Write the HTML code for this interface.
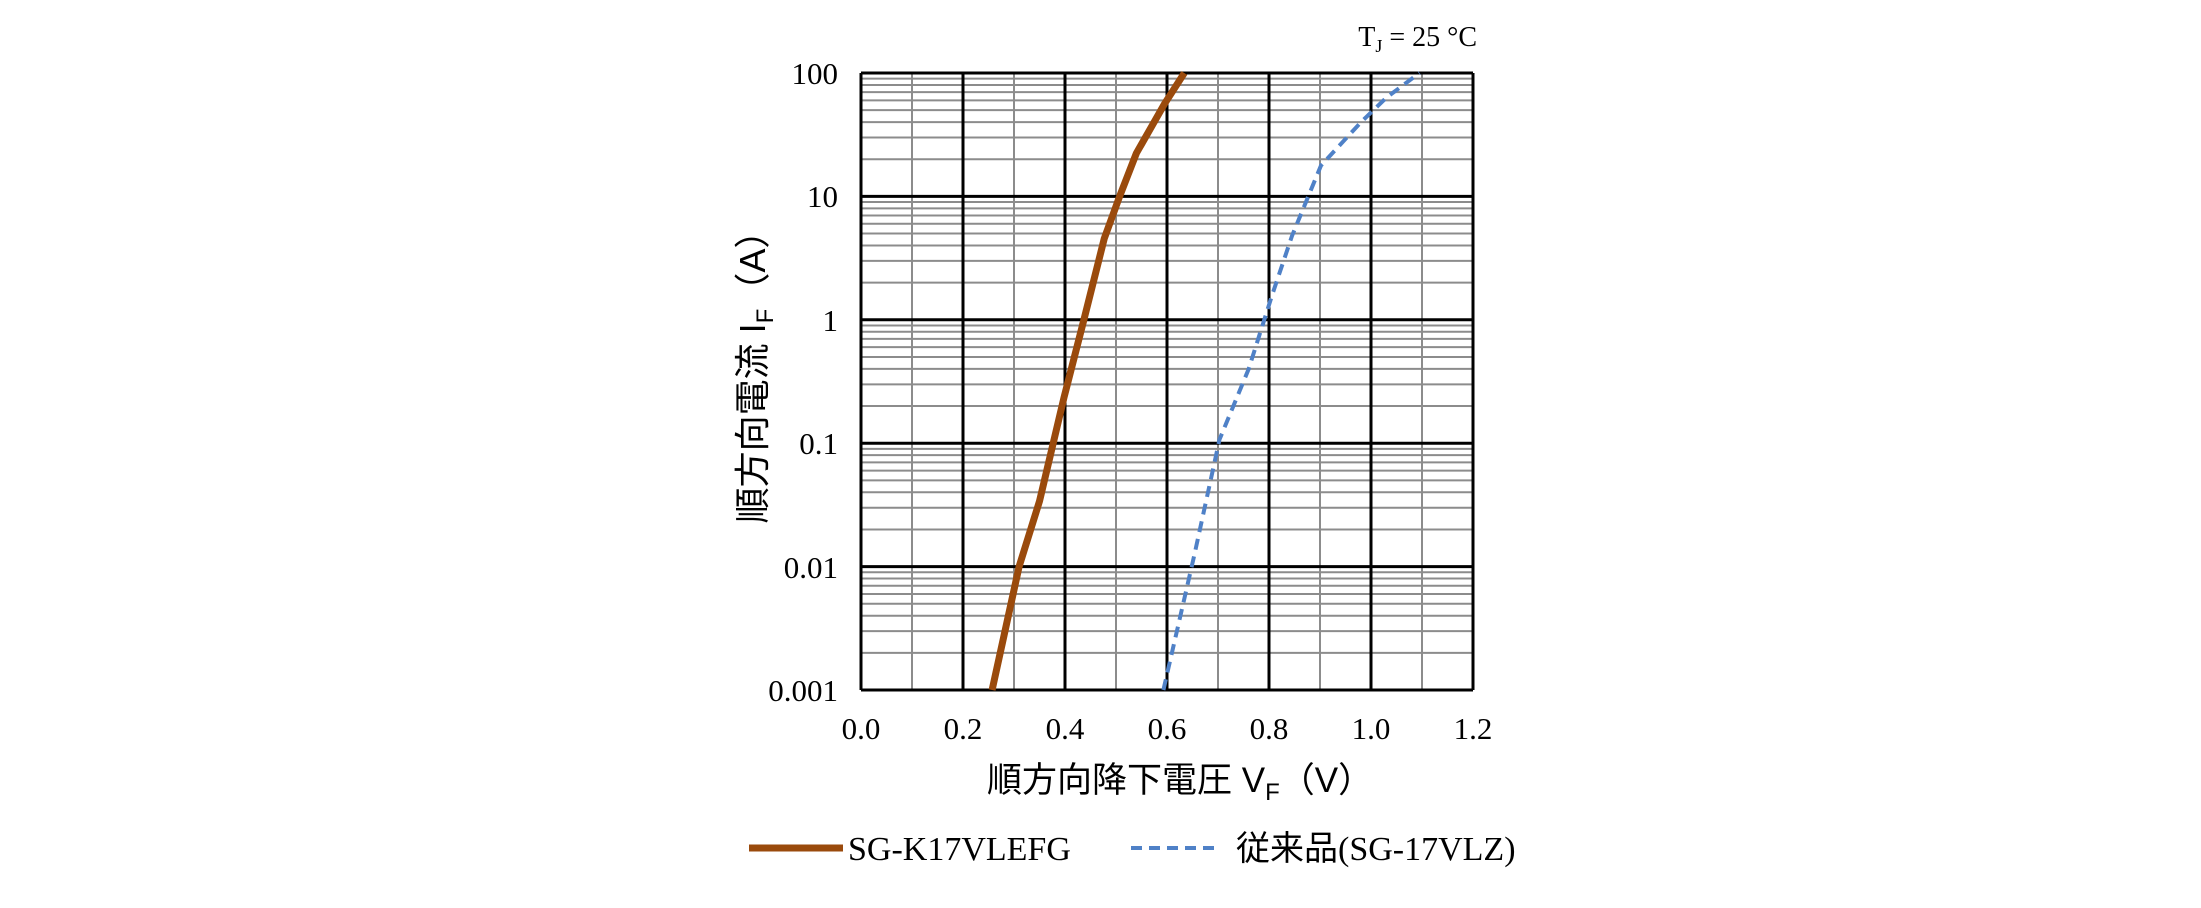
<!DOCTYPE html>
<html><head><meta charset="utf-8"><style>
html,body{margin:0;padding:0;background:#fff;}
svg text{font-family:"Liberation Serif","Noto Serif CJK SC",serif;fill:#000;}
.j{font-family:"Liberation Sans","Noto Sans CJK JP",sans-serif;}
</style></head><body>
<svg width="2201" height="903" viewBox="0 0 2201 903" xmlns="http://www.w3.org/2000/svg">
<g id="grid"></g>
<script>
(function(){
var g=document.getElementById('grid'),ns='http://www.w3.org/2000/svg';
var L=861,R=1473,T=73,B=690,dec=(B-T)/5;
function ln(x1,y1,x2,y2,c,w){var e=document.createElementNS(ns,'line');e.setAttribute('x1',x1);e.setAttribute('y1',y1);e.setAttribute('x2',x2);e.setAttribute('y2',y2);e.setAttribute('stroke',c);e.setAttribute('stroke-width',w);g.appendChild(e);}
for(var d=0;d<5;d++){for(var k=2;k<10;k++){var y=B-dec*(d+Math.log10(k));ln(L,y,R,y,'#8c8c8c',2);}}
for(var i=1;i<12;i+=2){var x=L+i*(R-L)/12;ln(x,T,x,B,'#8c8c8c',2);}
for(var d=0;d<=5;d++){var y=B-dec*d;ln(L,y,R,y,'#000',3);}
for(var i=0;i<=12;i+=2){var x=L+i*(R-L)/12;ln(x,T,x,B,'#000',3);}
function pts(a){return a.map(function(p){return (L+p[0]*(R-L)/1.2).toFixed(1)+','+(B-(p[1]+3)*dec).toFixed(1)}).join(' ');}
var b=[[0.257,-3],[0.31,-2],[0.35,-1.47],[0.398,-0.63],[0.437,0],[0.477,0.66],[0.507,1],[0.54,1.35],[0.595,1.75],[0.634,2]];
var u=[[0.593,-3],[0.654,-1.9],[0.703,-0.97],[0.76,-0.4],[0.806,0.2],[0.845,0.68],[0.902,1.25],[0.98,1.6],[1.03,1.8],[1.095,2]];
var p=document.createElementNS(ns,'polyline');p.setAttribute('points',pts(u));p.setAttribute('fill','none');p.setAttribute('stroke','#4f81c7');p.setAttribute('stroke-width','4');p.setAttribute('stroke-dasharray','11 7');g.appendChild(p);
p=document.createElementNS(ns,'polyline');p.setAttribute('points',pts(b));p.setAttribute('fill','none');p.setAttribute('stroke','#9a4a0c');p.setAttribute('stroke-width','7');p.setAttribute('stroke-linejoin','round');g.appendChild(p);
})();
</script>
<g font-size="31" text-anchor="end">
<text x="838" y="84">100</text>
<text x="838" y="207">10</text>
<text x="838" y="331">1</text>
<text x="838" y="454">0.1</text>
<text x="838" y="578">0.01</text>
<text x="838" y="701">0.001</text>
</g>
<g font-size="31" text-anchor="middle">
<text x="861" y="739">0.0</text>
<text x="963" y="739">0.2</text>
<text x="1065" y="739">0.4</text>
<text x="1167" y="739">0.6</text>
<text x="1269" y="739">0.8</text>
<text x="1371" y="739">1.0</text>
<text x="1473" y="739">1.2</text>
</g>
<text x="1477" y="46" font-size="28" text-anchor="end">T<tspan font-size="18" dy="6">J</tspan><tspan dy="-6"> = 25 °C</tspan></text>
<text class="j" x="987" y="792" font-size="35">順方向降下電圧 V<tspan font-size="24" dy="8">F</tspan><tspan dy="-8">（V）</tspan></text>
<text class="j" transform="translate(765,368) rotate(-90)" text-anchor="middle" font-size="36">順方向電流 I<tspan font-size="24" dy="8">F</tspan><tspan dy="-8">（A）</tspan></text>
<line x1="749" y1="848" x2="843" y2="848" stroke="#9a4a0c" stroke-width="7"/>
<text x="848" y="860" font-size="34">SG-K17VLEFG</text>
<line x1="1131" y1="848" x2="1219" y2="848" stroke="#4f81c7" stroke-width="4" stroke-dasharray="11 7"/>
<text x="1236" y="860" font-size="34"><tspan class="j">従来品</tspan>(SG-17VLZ)</text>
</svg>
</body></html>
